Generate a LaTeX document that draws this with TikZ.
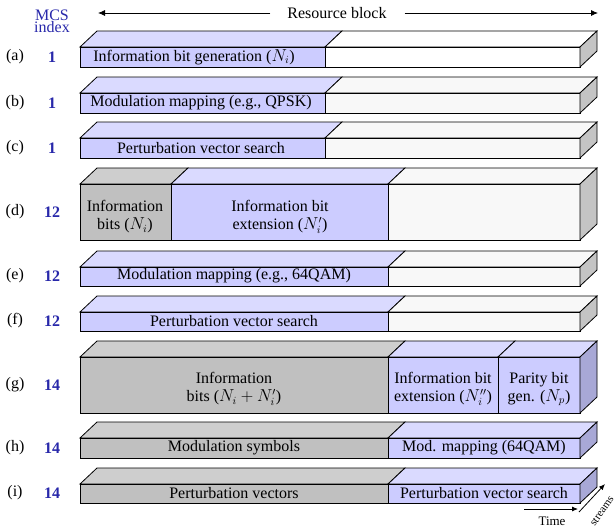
\documentclass[tikz,border=0pt]{standalone}
\usepackage{fontspec}
\setmainfont{Liberation Serif}
\usetikzlibrary{arrows.meta}
\definecolor{bfront}{RGB}{204,204,255}
\definecolor{btop}{RGB}{218,218,255}
\definecolor{bside}{RGB}{168,168,214}
\definecolor{gfront}{RGB}{192,192,192}
\definecolor{gtop}{RGB}{206,206,206}
\definecolor{gside}{RGB}{196,196,196}
\definecolor{wfront}{RGB}{248,248,248}
\definecolor{mcsblue}{RGB}{40,40,170}
\tikzset{
  face/.style={draw=black,line width=0.8pt,line join=miter},
  lbl/.style={font=\fontsize{16}{18}\selectfont,inner sep=0pt,align=center},
  mcs/.style={font=\fontsize{16}{16}\selectfont\bfseries,text=mcsblue,inner sep=0pt},
  rowlbl/.style={font=\fontsize{16}{18}\selectfont,inner sep=0pt},
  small/.style={font=\fontsize{13}{14}\selectfont,inner sep=0pt}
}
\newcommand\seg[6]{% x0 x1 yt yb frontcolor topcolor
  \filldraw[face,fill=#6] (#1,#3) -- (#1+17,#3-16) -- (#2+17,#3-16) -- (#2,#3) -- cycle;
  \filldraw[face,fill=#5] (#1,#3) rectangle (#2,#4);}
\newcommand\sideface[3]{% yt yb color
  \filldraw[face,fill=#3] (580,#1) -- (597,#1-16) -- (597,#2-16) -- (580,#2) -- cycle;}
\begin{document}
\begin{tikzpicture}[x=1pt,y=-1pt]
\useasboundingbox (0,0) rectangle (616,528);
% header
\node[font=\fontsize{16}{14}\selectfont,text=mcsblue,align=center,inner sep=0pt] (mcshead) at (52,21) {MCS\\[-2pt]index};
\node[lbl] (rb) at (337,13) {Resource block};
\draw[-{Latex[length=7pt,width=6pt]},line width=0.8pt] (rb.west)++(-17,0) -- (98,13);
\draw[-{Latex[length=7pt,width=6pt]},line width=0.8pt] (rb.east)++(18,0) -- (598,13);
% (a)
\seg{80}{325}{47}{67}{bfront}{btop}
\seg{325}{580}{47}{67}{white}{white}
\sideface{47}{67}{gside}
% (b)
\seg{80}{325}{93}{113}{bfront}{btop}
\seg{325}{580}{93}{113}{wfront}{wfront}
\sideface{93}{113}{gside}
% (c)
\seg{80}{325}{138}{158}{bfront}{btop}
\seg{325}{580}{138}{158}{wfront}{wfront}
\sideface{138}{158}{gside}
% (d)
\seg{80}{171}{184}{240}{gfront}{gtop}
\seg{171}{388}{184}{240}{bfront}{btop}
\seg{388}{580}{184}{240}{wfront}{wfront}
\sideface{184}{240}{gside}
% (e)
\seg{80}{388}{267}{286}{bfront}{btop}
\seg{388}{580}{267}{286}{wfront}{wfront}
\sideface{267}{286}{gside}
% (f)
\seg{80}{388}{312}{331}{bfront}{btop}
\seg{388}{580}{312}{331}{wfront}{wfront}
\sideface{312}{331}{gside}
% (g)
\seg{80}{388}{357}{413}{gfront}{gtop}
\seg{388}{498}{357}{413}{bfront}{btop}
\seg{498}{580}{357}{413}{bfront}{btop}
\sideface{357}{413}{bside}
% (h)
\seg{80}{388}{438}{458}{gfront}{gtop}
\seg{388}{580}{438}{458}{bfront}{btop}
\sideface{438}{458}{bside}
% (i)
\seg{80}{388}{484}{503}{gfront}{gtop}
\seg{388}{580}{484}{503}{bfront}{btop}
\sideface{484}{503}{bside}
% row labels
\node[rowlbl] (la) at (15,57) {(a)};  \node[mcs] (ma) at (52,57) {1};
\node[rowlbl] (lb) at (15,103) {(b)}; \node[mcs] (mb) at (52,103) {1};
\node[rowlbl] (lc) at (15,148) {(c)}; \node[mcs] (mc) at (52,148) {1};
\node[rowlbl] (ld) at (15,212) {(d)}; \node[mcs] (md) at (52,212) {12};
\node[rowlbl] (le) at (15,276) {(e)}; \node[mcs] (me) at (52,276) {12};
\node[rowlbl] (lf) at (15,321) {(f)}; \node[mcs] (mf) at (52,321) {12};
\node[rowlbl] (lg) at (15,385) {(g)}; \node[mcs] (mg) at (52,385) {14};
\node[rowlbl] (lh) at (15,448) {(h)}; \node[mcs] (mh) at (52,448) {14};
\node[rowlbl] (li) at (15,493) {(i)}; \node[mcs] (mi) at (52,493) {14};
% texts in boxes
\node[lbl] (ta) at (194,57) {Information bit generation ($N_i$)};
\node[lbl] (tb) at (201,103) {Modulation mapping (e.g., QPSK)};
\node[lbl] (tc) at (201,148) {Perturbation vector search};
\node[lbl] (td1) at (125,217) {Information\\bits ($N_i$)};
\node[lbl] (td2) at (280,217) {Information bit\\extension ($N_i'$)};
\node[lbl] (te) at (234,276) {Modulation mapping (e.g., 64QAM)};
\node[lbl] (tf) at (234,321) {Perturbation vector search};
\node[lbl] (tg1) at (234,389) {Information\\bits ($N_i+N_i'$)};
\node[lbl] (tg2) at (443,389) {Information bit\\extension ($N_i''$)};
\node[lbl] (tg3) at (539,389) {Parity bit\\gen. ($N_p$)};
\node[lbl] (th1) at (234,448) {Modulation symbols};
\node[lbl] (th2) at (484,448) {Mod. mapping (64QAM)};
\node[lbl] (ti1) at (234,493) {Perturbation vectors};
\node[lbl] (ti2) at (484,493) {Perturbation vector search};
% axes
\coordinate (t0) at (524,509);
\coordinate (t1) at (578,509);
\draw[-{Latex[length=6pt,width=5pt]},line width=0.8pt] (t0) -- (t1);
\node[small] (time) at (552,521) {Time};
\coordinate (s0) at (579,512);
\coordinate (s1) at (605,484);
\draw[-{Latex[length=6pt,width=5pt]},line width=0.8pt] (s0) -- (s1);
\node[font=\fontsize{11}{12}\selectfont,inner sep=0pt,rotate=55] (streams) at (602,511) {streams};
\end{tikzpicture}
\end{document}
